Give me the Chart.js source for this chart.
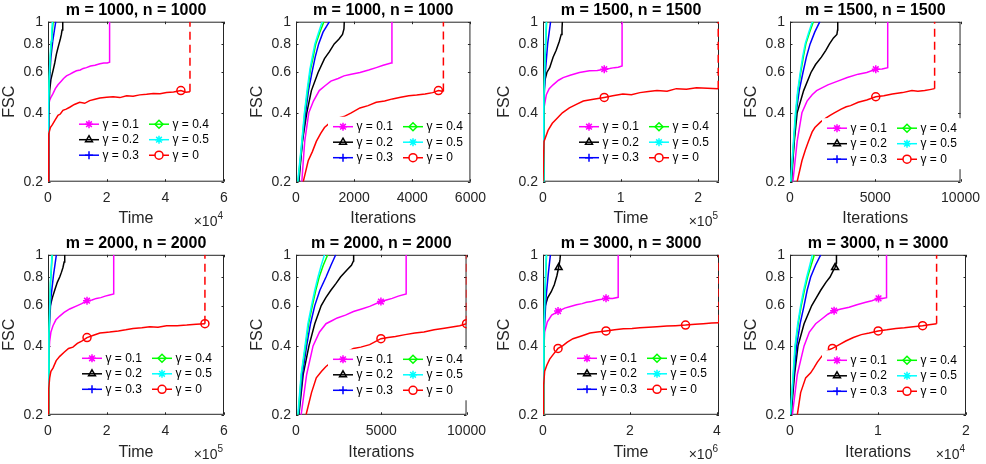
<!DOCTYPE html>
<html>
<head>
<meta charset="utf-8">
<script src="https://cdn.jsdelivr.net/npm/chart.js@4.4.1/dist/chart.umd.min.js"></script>
<style>
  html, body { margin: 0; padding: 0; background: #fff; overflow: hidden; }
  #fig { position: relative; width: 986px; height: 464px; background: #fff; }
  #fig canvas { position: absolute; }
</style>
</head>
<body>
<div id="fig"></div>
<script>
// ---- data: [x, FSC] ----
// series order in every panel: gamma = 0.1, 0.2, 0.3, 0.4, 0.5, 0
const gammaLabels = ['γ = 0.1', 'γ = 0.2', 'γ = 0.3', 'γ = 0.4', 'γ = 0.5', 'γ = 0'];
const yTicks = [0.2, 0.4, 0.6, 0.8, 1];

// m = 1000, time
const p1g1 = [[0,0.2],[60,0.3],[120,0.38],[250,0.43],[600,0.455],[1100,0.47],[1700,0.485],[2500,0.51],[3400,0.53],[4500,0.55],[5300,0.565],[6300,0.58],[7500,0.59],[8500,0.6],[9700,0.61],[11000,0.615],[12000,0.625],[13100,0.63],[14500,0.64],[16000,0.645],[17700,0.655],[19000,0.66],[20200,0.66],[21000,0.665],[21000,1]];
const p1g2 = [[0,0.2],[250,0.4],[570,0.5],[1000,0.56],[1700,0.61],[2300,0.66],[2850,0.72],[3300,0.76],[3760,0.8],[4200,0.84],[4560,0.88],[4800,0.92],[4950,0.96],[5100,1]];
const p1g3 = [[0,0.2],[200,0.4],[500,0.55],[1000,0.7],[1600,0.82],[2200,0.92],[2650,1]];
const p1g4 = [[0,0.2],[150,0.4],[400,0.55],[800,0.7],[1200,0.82],[1500,0.92],[1750,1]];
const p1g5 = [[0,0.2],[130,0.4],[350,0.55],[700,0.7],[1050,0.82],[1300,0.92],[1500,1]];
const p1g0 = [[0,0.2],[150,0.3],[340,0.323],[800,0.345],[1500,0.355],[2300,0.37],[3400,0.39],[4200,0.395],[5100,0.41],[6200,0.415],[7400,0.423],[9000,0.435],[10800,0.445],[12500,0.44],[14200,0.452],[16000,0.458],[17700,0.464],[20000,0.468],[22200,0.47],[24500,0.466],[26800,0.475],[29000,0.472],[31300,0.479],[33600,0.482],[35900,0.486],[38200,0.484],[40400,0.49],[42800,0.493],[45300,0.5],[47000,0.492],[48400,0.494],[48400,1]];
const p1marks = [[], [], [], [], [], [45300]];

// m = 1000, iterations
const p2g1 = [[200,0.2],[300,0.3],[440,0.4],[600,0.45],[800,0.5],[1000,0.525],[1200,0.55],[1450,0.565],[1650,0.58],[1900,0.59],[2200,0.6],[2500,0.615],[2760,0.63],[3000,0.645],[3270,0.66],[3300,0.665],[3300,1]];
const p2g2 = [[100,0.2],[220,0.3],[370,0.4],[530,0.5],[760,0.6],[980,0.69],[1150,0.74],[1315,0.8],[1480,0.84],[1600,0.88],[1650,0.93],[1660,1]];
const p2g3 = [[80,0.2],[220,0.3],[330,0.4],[430,0.5],[550,0.6],[660,0.7],[780,0.8],[930,0.9],[1150,1]];
const p2g4 = [[70,0.2],[210,0.3],[300,0.4],[400,0.5],[500,0.62],[590,0.7],[680,0.8],[820,0.9],[960,1]];
const p2g5 = [[60,0.2],[200,0.3],[290,0.4],[380,0.5],[480,0.62],[560,0.7],[650,0.8],[780,0.9],[900,1]];
const p2g0 = [[250,0.2],[420,0.247],[560,0.27],[700,0.3],[850,0.325],[980,0.345],[1200,0.365],[1460,0.38],[1650,0.385],[1900,0.4],[2200,0.42],[2480,0.43],[2760,0.445],[3050,0.45],[3320,0.46],[3600,0.468],[3880,0.475],[4150,0.478],[4440,0.483],[4700,0.49],[4900,0.5],[5070,0.495],[5070,1]];
const p2marks = [[], [], [], [], [], [4900]];

// m = 1500, time
const p3g1 = [[0,0.2],[600,0.35],[1300,0.42],[4300,0.48],[8000,0.51],[13000,0.53],[20000,0.555],[26000,0.57],[36000,0.585],[47000,0.6],[60000,0.61],[70000,0.612],[79000,0.62],[86000,0.625],[92000,0.63],[97000,0.632],[102000,0.64],[102000,1]];
const p3g2 = [[0,0.2],[800,0.45],[2200,0.55],[5000,0.6],[8600,0.63],[13000,0.7],[17000,0.75],[21000,0.82],[23500,0.88],[24500,0.93],[25000,1]];
const p3g3 = [[0,0.2],[1200,0.45],[3000,0.6],[6000,0.8],[9800,1]];
const p3g4 = [[0,0.2],[1100,0.45],[2700,0.7],[4700,1]];
const p3g5 = [[0,0.2],[1000,0.45],[2500,0.7],[4300,1]];
const p3g0 = [[0,0.2],[1300,0.3],[6500,0.335],[12000,0.36],[17000,0.375],[25000,0.4],[34000,0.42],[43000,0.435],[52000,0.45],[65000,0.458],[79000,0.467],[90000,0.475],[103000,0.483],[114000,0.48],[125000,0.49],[136000,0.495],[147000,0.5],[160000,0.497],[172000,0.51],[185000,0.507],[198000,0.515],[212000,0.512],[226000,0.51],[226000,1]];
const p3marks = [[79000], [], [], [], [], [79000]];

// m = 1500, iterations
const p4g1 = [[170,0.2],[420,0.3],[700,0.4],[1000,0.45],[1300,0.48],[1560,0.5],[1900,0.515],[2220,0.53],[2800,0.55],[3360,0.57],[4000,0.59],[4500,0.6],[5030,0.62],[5400,0.622],[5730,0.63],[5730,1]];
const p4g2 = [[80,0.2],[250,0.3],[420,0.4],[800,0.5],[1230,0.6],[1500,0.65],[1840,0.7],[2100,0.75],[2315,0.8],[2550,0.85],[2750,0.88],[2790,0.92],[2800,1]];
const p4g3 = [[60,0.2],[230,0.3],[360,0.4],[540,0.5],[760,0.6],[960,0.7],[1180,0.8],[1450,0.9],[1750,1]];
const p4g4 = [[50,0.2],[220,0.3],[340,0.4],[470,0.5],[630,0.6],[780,0.7],[930,0.8],[1150,0.9],[1370,1]];
const p4g5 = [[40,0.2],[200,0.3],[320,0.4],[450,0.5],[600,0.6],[740,0.7],[890,0.8],[1100,0.9],[1310,1]];
const p4g0 = [[420,0.2],[700,0.247],[900,0.275],[1080,0.3],[1300,0.33],[1460,0.345],[1800,0.365],[2120,0.38],[2350,0.39],[2600,0.4],[3000,0.415],[3300,0.425],[3550,0.43],[4000,0.445],[4500,0.455],[5030,0.47],[5500,0.475],[6000,0.483],[6600,0.49],[7150,0.5],[7500,0.497],[7900,0.5],[8200,0.505],[8480,0.51],[8480,1]];
const p4marks = [[5030], [], [], [], [], [5030]];

// m = 2000, time
const p5g1 = [[0,0.2],[1500,0.33],[5700,0.42],[10000,0.46],[17000,0.49],[27000,0.52],[40000,0.54],[55000,0.56],[74000,0.58],[100000,0.6],[115000,0.612],[133000,0.63],[150000,0.635],[165000,0.645],[180000,0.65],[195000,0.66],[210000,0.668],[224000,0.675],[224000,1]];
const p5g2 = [[0,0.2],[1500,0.45],[4000,0.55],[8000,0.6],[15000,0.65],[22800,0.7],[32000,0.76],[40000,0.8],[46000,0.84],[51000,0.88],[55000,0.93],[57000,1]];
const p5g3 = [[0,0.2],[3500,0.45],[10000,0.65],[19000,0.82],[28500,1]];
const p5g4 = [[0,0.2],[3300,0.45],[8500,0.75],[14500,1]];
const p5g5 = [[0,0.2],[3000,0.45],[8000,0.75],[13700,1]];
const p5g0 = [[0,0.2],[2500,0.26],[5700,0.29],[10000,0.31],[17000,0.32],[28000,0.345],[40000,0.36],[55000,0.375],[70000,0.39],[85000,0.395],[100000,0.41],[115000,0.42],[133000,0.435],[155000,0.445],[177000,0.455],[195000,0.458],[210000,0.46],[240000,0.465],[265000,0.47],[290000,0.477],[320000,0.48],[347000,0.485],[375000,0.483],[404000,0.49],[440000,0.49],[473000,0.493],[505000,0.497],[535000,0.5],[535000,1]];
const p5marks = [[133000], [], [], [], [], [133000, 535000]];

// m = 2000, iterations
const p6g1 = [[300,0.2],[625,0.3],[1000,0.4],[1380,0.46],[1760,0.5],[2100,0.515],[2420,0.53],[2900,0.545],[3370,0.565],[3850,0.58],[4320,0.595],[4980,0.625],[5300,0.635],[5640,0.645],[6000,0.66],[6460,0.675],[6460,1]];
const p6g2 = [[170,0.2],[420,0.3],[760,0.4],[1100,0.5],[1480,0.6],[1750,0.65],[2045,0.7],[2350,0.75],[2610,0.8],[3000,0.86],[3250,0.9],[3370,0.94],[3380,1]];
const p6g3 = [[150,0.2],[380,0.3],[625,0.4],[850,0.5],[1100,0.6],[1400,0.7],[1760,0.8],[2050,0.9],[2330,1]];
const p6g4 = [[130,0.2],[320,0.3],[560,0.4],[740,0.5],[960,0.6],[1160,0.7],[1360,0.8],[1600,0.9],[1860,1]];
const p6g5 = [[110,0.2],[300,0.3],[530,0.4],[700,0.5],[910,0.6],[1100,0.7],[1290,0.8],[1480,0.9],[1670,1]];
const p6g0 = [[590,0.2],[910,0.25],[1190,0.29],[1500,0.31],[1760,0.325],[2200,0.345],[2700,0.365],[3100,0.38],[3370,0.39],[3800,0.395],[4320,0.405],[4980,0.43],[5400,0.435],[5830,0.44],[6400,0.448],[6970,0.455],[7500,0.46],[8100,0.47],[8700,0.478],[9240,0.485],[9600,0.49],[10000,0.5],[10000,1]];
const p6marks = [[4980], [], [], [], [], [4980, 10000]];

// m = 3000, time
const p7g1 = [[0,0.2],[10000,0.35],[38000,0.46],[100000,0.51],[200000,0.545],[270000,0.555],[346000,0.568],[420000,0.575],[500000,0.585],[630000,0.595],[770000,0.605],[900000,0.612],[1000000,0.62],[1120000,0.625],[1250000,0.635],[1350000,0.64],[1450000,0.646],[1600000,0.645],[1730000,0.652],[1730000,1]];
const p7g2 = [[0,0.2],[15000,0.45],[30000,0.55],[54000,0.6],[110000,0.65],[190000,0.69],[260000,0.74],[320000,0.81],[360000,0.88],[390000,0.95],[400000,1]];
const p7g3 = [[0,0.2],[25000,0.45],[70000,0.65],[120000,0.82],[170000,1]];
const p7g4 = [[0,0.2],[22000,0.45],[48000,0.7],[82000,1]];
const p7g5 = [[0,0.2],[20000,0.45],[45000,0.7],[77000,1]];
const p7g0 = [[0,0.2],[15000,0.27],[38000,0.31],[90000,0.33],[154000,0.35],[250000,0.37],[346000,0.39],[450000,0.4],[560000,0.415],[690000,0.43],[850000,0.44],[1000000,0.45],[1080000,0.455],[1250000,0.46],[1450000,0.465],[1650000,0.47],[1850000,0.475],[2050000,0.477],[2230000,0.48],[2430000,0.483],[2620000,0.485],[2850000,0.488],[3050000,0.49],[3280000,0.493],[3500000,0.497],[3690000,0.5],[3880000,0.503],[4050000,0.505],[4050000,1]];
const p7marks = [[346000, 1450000], [360000], [], [], [], [346000, 1450000, 3280000]];

// m = 3000, iterations
const p8g1 = [[270,0.2],[830,0.3],[1600,0.4],[2200,0.46],[2920,0.5],[3680,0.527],[4300,0.55],[5010,0.57],[5800,0.58],[6720,0.59],[7600,0.605],[8610,0.62],[9300,0.63],[10060,0.645],[10500,0.645],[10970,0.65],[10970,1]];
const p8g2 = [[120,0.2],[520,0.3],[910,0.4],[1600,0.5],[2470,0.6],[3000,0.65],[3490,0.7],[4100,0.76],[4550,0.8],[4900,0.85],[5120,0.88],[5250,0.92],[5280,1]];
const p8g3 = [[80,0.2],[450,0.3],[760,0.4],[1150,0.5],[1600,0.6],[1950,0.7],[2350,0.8],[2900,0.9],[3490,1]];
const p8g4 = [[60,0.2],[380,0.3],[610,0.4],[930,0.5],[1280,0.6],[1640,0.7],[2000,0.8],[2400,0.9],[2770,1]];
const p8g5 = [[40,0.2],[350,0.3],[570,0.4],[880,0.5],[1210,0.6],[1550,0.7],[1900,0.8],[2250,0.9],[2540,1]];
const p8g0 = [[830,0.2],[1210,0.25],[1780,0.29],[2350,0.305],[2700,0.32],[3110,0.34],[3600,0.36],[4000,0.375],[4440,0.385],[4820,0.39],[5600,0.405],[6340,0.42],[7200,0.435],[8100,0.448],[9000,0.455],[10020,0.465],[11000,0.47],[12030,0.477],[13000,0.48],[14000,0.485],[15070,0.49],[15800,0.495],[16660,0.5],[16660,1]];
const p8marks = [[5010, 10060], [5120], [], [], [], [4820, 10020, 15070]];

const panels = [
  { title: 'm = 1000, n = 1000', xLabel: 'Time',       xMax: 60000,   xTicks: [0, 20000, 40000, 60000],   exp: 4, series: [p1g1, p1g2, p1g3, p1g4, p1g5, p1g0], marks: p1marks },
  { title: 'm = 1000, n = 1000', xLabel: 'Iterations', xMax: 6000,    xTicks: [0, 2000, 4000, 6000],      exp: 0, series: [p2g1, p2g2, p2g3, p2g4, p2g5, p2g0], marks: p2marks },
  { title: 'm = 1500, n = 1500', xLabel: 'Time',       xMax: 227000,  xTicks: [0, 100000, 200000],        exp: 5, series: [p3g1, p3g2, p3g3, p3g4, p3g5, p3g0], marks: p3marks },
  { title: 'm = 1500, n = 1500', xLabel: 'Iterations', xMax: 10000,   xTicks: [0, 5000, 10000],           exp: 0, series: [p4g1, p4g2, p4g3, p4g4, p4g5, p4g0], marks: p4marks },
  { title: 'm = 2000, n = 2000', xLabel: 'Time',       xMax: 600000,  xTicks: [0, 200000, 400000, 600000], exp: 5, series: [p5g1, p5g2, p5g3, p5g4, p5g5, p5g0], marks: p5marks },
  { title: 'm = 2000, n = 2000', xLabel: 'Iterations', xMax: 10000,   xTicks: [0, 5000, 10000],           exp: 0, series: [p6g1, p6g2, p6g3, p6g4, p6g5, p6g0], marks: p6marks },
  { title: 'm = 3000, n = 3000', xLabel: 'Time',       xMax: 4050000, xTicks: [0, 2000000, 4000000],      exp: 6, series: [p7g1, p7g2, p7g3, p7g4, p7g5, p7g0], marks: p7marks },
  { title: 'm = 3000, n = 3000', xLabel: 'Iterations', xMax: 20000,   xTicks: [0, 10000, 20000],          exp: 4, series: [p8g1, p8g2, p8g3, p8g4, p8g5, p8g0], marks: p8marks },
];

// ---- look ----
const FONT = '"Liberation Sans", Arial, Helvetica, sans-serif';
const AXIS = '#262626';
const COLORS = ['#ff00ff', '#000000', '#0000ff', '#00ff00', '#00ffff', '#ff0000'];
const MARKERS = ['star', 'triangle', 'cross', 'rectRot', 'star', 'circle'];
const COL_LEFT = [0, 248, 495, 742];
const ROW_TOP = [0, 232];
const CANVAS_W = 246, CANVAS_H = 232;
const PAD_TOP = [0.5, 1.6];
const TITLE_H = 16 * 1.2 + 2;
const XTITLE_PAD = [3.5, 1.5];
const LEGEND_AT = [[31, 102.5], [37, 105], [36, 105], [37, 106.5], [34, 103.5], [37, 104.5], [34, 103.5], [37, 105.5]];

function marker(ctx, style, x, y, color) {
  ctx.save();
  ctx.strokeStyle = color;
  ctx.fillStyle = 'rgba(0,0,0,0)';
  ctx.lineWidth = 1.5;
  Chart.helpers.drawPoint(ctx, { pointStyle: style, radius: 4, rotation: 0, borderWidth: 1.5 }, x, y);
  ctx.restore();
}

const frame = {
  id: 'frame',
  // axes box and inward ticks sit under the curves, as in the original
  beforeDatasetsDraw(chart) {
    const { ctx, chartArea: a, scales: { x, y } } = chart;
    ctx.save();
    ctx.strokeStyle = AXIS;
    ctx.lineWidth = 1;
    ctx.strokeRect(a.left + 0.5, a.top + 0.5, a.width - 1, a.height - 1);
    const tl = 2.5;
    ctx.beginPath();
    x.ticks.forEach(t => {
      const px = Math.round(x.getPixelForValue(t.value)) + 0.5;
      ctx.moveTo(px, a.bottom); ctx.lineTo(px, a.bottom - tl);
      ctx.moveTo(px, a.top); ctx.lineTo(px, a.top + tl);
    });
    y.ticks.forEach(t => {
      const py = Math.round(y.getPixelForValue(t.value)) + 0.5;
      ctx.moveTo(a.left, py); ctx.lineTo(a.left + tl, py);
      ctx.moveTo(a.right, py); ctx.lineTo(a.right - tl, py);
    });
    ctx.stroke();
    ctx.restore();
  },
  afterDatasetsDraw(chart, args, opts) {
    const { ctx, chartArea: a } = chart;
    const [dx, dy] = opts.legendAt;
    const lx = a.left + dx, ly = a.top + dy;
    ctx.save();
    ctx.fillStyle = '#fff';
    ctx.fillRect(lx - 5, ly - 10, 141, 51);
    ctx.font = `12px ${FONT}`;
    ctx.textBaseline = 'middle';
    ctx.textAlign = 'left';
    gammaLabels.forEach((label, i) => {
      const sx = lx + Math.floor(i / 3) * 70;
      const sy = ly + (i % 3) * 15.5;
      ctx.strokeStyle = COLORS[i];
      ctx.lineWidth = 1.5;
      ctx.setLineDash(i === 5 ? [6, 8] : []);
      ctx.beginPath();
      ctx.moveTo(sx, sy);
      ctx.lineTo(sx + 20, sy);
      ctx.stroke();
      ctx.setLineDash([]);
      marker(ctx, MARKERS[i], sx + 10, sy, COLORS[i]);
      ctx.fillStyle = '#000';
      ctx.fillText(label, sx + 23.5, sy);
    });
    ctx.restore();
  },
  afterDraw(chart, args, opts) {
    if (!opts.exp) return;
    const { ctx, chartArea: a } = chart;
    ctx.save();
    ctx.fillStyle = AXIS;
    ctx.textAlign = 'left';
    ctx.textBaseline = 'alphabetic';
    ctx.font = `14px ${FONT}`;
    const base = '×10';
    const w1 = ctx.measureText(base).width;
    ctx.font = `10px ${FONT}`;
    const w2 = ctx.measureText(String(opts.exp)).width;
    const xr = a.right - 1, yb = a.bottom + 44;
    ctx.font = `14px ${FONT}`;
    ctx.fillText(base, xr - w1 - w2, yb);
    ctx.font = `10px ${FONT}`;
    ctx.fillText(String(opts.exp), xr - w2, yb - 7);
    ctx.restore();
  }
};

const fig = document.getElementById('fig');

panels.forEach((p, k) => {
  const row = Math.floor(k / 4), col = k % 4;
  const canvas = document.createElement('canvas');
  canvas.width = CANVAS_W;
  canvas.height = CANVAS_H;
  canvas.style.left = COL_LEFT[col] + 'px';
  canvas.style.top = ROW_TOP[row] + 'px';
  canvas.style.width = CANVAS_W + 'px';
  canvas.style.height = CANVAS_H + 'px';
  fig.appendChild(canvas);

  const padTop = PAD_TOP[row];
  const xHeight = CANVAS_H - padTop - TITLE_H - 160;

  const datasets = p.series.map((s, i) => {
    const n = s.length;
    const marks = p.marks[i];
    return {
      label: gammaLabels[i],
      data: s,
      order: 5 - i,
      borderColor: COLORS[i],
      borderWidth: 1.5,
      tension: 0,
      fill: false,
      pointStyle: MARKERS[i],
      pointBorderColor: COLORS[i],
      pointBackgroundColor: 'rgba(0,0,0,0)',
      pointBorderWidth: 1.5,
      pointRadius: c => (c.raw && c.raw[1] < 1 && marks.includes(c.raw[0])) ? 4 : 0,
      pointHoverRadius: 0,
      pointHitRadius: 0,
      segment: {
        borderDash: c => (i === 5 && c.p1DataIndex === n - 1) ? [8, 5] : undefined
      }
    };
  });

  new Chart(canvas.getContext('2d'), {
    type: 'line',
    data: { datasets },
    options: {
      responsive: false,
      animation: false,
      events: [],
      layout: { padding: { left: 0, right: CANVAS_W - 224, top: padTop, bottom: 0 } },
      plugins: {
        legend: { display: false },
        tooltip: { enabled: false },
        title: {
          display: true, text: p.title, color: '#000', fullSize: false,
          font: { family: FONT, size: 16, weight: 'bold' },
          padding: { top: 0, bottom: 2 }
        },
        frame: { legendAt: LEGEND_AT[k], exp: p.exp }
      },
      scales: {
        x: {
          type: 'linear', min: 0, max: p.xMax,
          grid: { display: false, drawTicks: false },
          border: { display: false },
          afterBuildTicks: s => { s.ticks = p.xTicks.map(v => ({ value: v })); },
          afterFit: s => { s.height = xHeight; },
          ticks: {
            autoSkip: false, maxRotation: 0, padding: 8, color: AXIS,
            font: { family: FONT, size: 14 },
            callback: v => p.exp ? String(Math.round(v / Math.pow(10, p.exp) * 100) / 100) : String(v)
          },
          title: {
            display: true, text: p.xLabel, color: AXIS,
            font: { family: FONT, size: 16 },
            padding: { top: 0, bottom: XTITLE_PAD[row] }
          }
        },
        y: {
          type: 'logarithmic', min: 0.2, max: 1,
          grid: { display: false, drawTicks: false },
          border: { display: false },
          afterBuildTicks: s => { s.ticks = yTicks.map(v => ({ value: v })); },
          afterFit: s => { s.width = 48; },
          ticks: {
            autoSkip: false, padding: 5, color: AXIS,
            font: { family: FONT, size: 14 },
            callback: v => String(v)
          },
          title: {
            display: true, text: 'FSC', color: AXIS,
            font: { family: FONT, size: 16 },
            padding: { top: 0, bottom: 0 }
          }
        }
      }
    },
    plugins: [frame]
  });
});
</script>
</body>
</html>
